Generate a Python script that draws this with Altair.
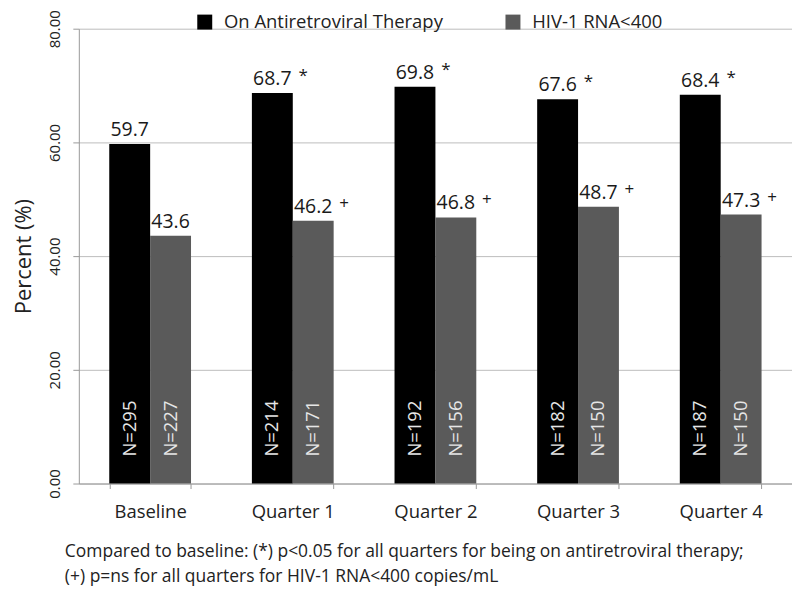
import altair as alt
import pandas as pd

categories = ["Baseline", "Quarter 1", "Quarter 2", "Quarter 3", "Quarter 4"]
series_names = ["On Antiretroviral Therapy", "HIV-1 RNA<400"]
art_pct = [59.7, 68.7, 69.8, 67.6, 68.4]
rna_pct = [43.6, 46.2, 46.8, 48.7, 47.3]
art_n = [295, 214, 192, 182, 187]
rna_n = [227, 171, 156, 150, 150]
art_mark = ["", "*", "*", "*", "*"]
rna_mark = ["", "+", "+", "+", "+"]
y_ticks = [0, 20, 40, 60, 80]
footnote = [
    "Compared to baseline: (*) p<0.05 for all quarters for being on antiretroviral therapy;",
    "(+) p=ns for all quarters for HIV-1 RNA<400 copies/mL",
]

rows = []
for i, c in enumerate(categories):
    rows.append({"cat": c, "series": series_names[0], "pct": art_pct[i],
                 "label": f"{art_pct[i]:.1f}", "mark": art_mark[i], "n": f"N={art_n[i]}"})
    rows.append({"cat": c, "series": series_names[1], "pct": rna_pct[i],
                 "label": f"{rna_pct[i]:.1f}", "mark": rna_mark[i], "n": f"N={rna_n[i]}"})
df = pd.DataFrame(rows)

FONT = "Open Sans"

x_enc = alt.X("cat:N", sort=categories, title=None,
              scale=alt.Scale(paddingInner=0.427, paddingOuter=0.2135),
              axis=alt.Axis(labelAngle=0, labelFontSize=18.5, labelColor="#222222",
                            labelFont=FONT, labelPadding=14, tickBand="extent",
                            tickSize=5, tickColor="#9a9a9a", domainColor="#9a9a9a",
                            grid=False))
xoff = alt.XOffset("series:N", sort=series_names,
                   scale=alt.Scale(domain=series_names, paddingInner=0, paddingOuter=0))
y_enc = alt.Y("pct:Q", title="Percent (%)",
              scale=alt.Scale(domain=[0, 80], nice=False),
              axis=alt.Axis(values=y_ticks, format=".2f", labelAngle=270,
                            labelAlign="center", labelBaseline="bottom",
                            labelFontSize=15, labelFont=FONT, labelColor="#222222",
                            labelPadding=10, tickSize=6, tickColor="#9a9a9a",
                            domainColor="#9a9a9a", gridColor="#bdbdbd",
                            titleFontSize=22, titleFont=FONT, titleFontWeight="normal",
                            titleColor="#222222", titlePadding=12))

base = alt.Chart(df).encode(x=x_enc, xOffset=xoff)

bars = base.mark_bar(size=41).encode(
    y=y_enc,
    color=alt.Color("series:N",
                    scale=alt.Scale(domain=series_names, range=["#000000", "#5a5a5a"]),
                    legend=alt.Legend(title=None, orient="none", legendX=117, legendY=-16,
                                      direction="horizontal", symbolType="square",
                                      symbolSize=225, symbolStrokeWidth=0,
                                      labelFontSize=18.5, labelFont=FONT, labelLimit=500,
                                      labelColor="#222222", columnPadding=60,
                                      labelOffset=10)),
)

vals = base.mark_text(baseline="bottom", dy=-4, fontSize=19.5, font=FONT,
                      color="#1a1a1a").encode(y="pct:Q", text="label:N")

marks = base.mark_text(baseline="bottom", dy=-8, dx=31, fontSize=17, font=FONT,
                       color="#1a1a1a").encode(y="pct:Q", text="mark:N")

ns = base.mark_text(angle=270, align="left", baseline="middle", dx=27, fontSize=18.5,
                    font=FONT, color="#e6e6e6").encode(y=alt.datum(0), text="n:N")

chart = alt.layer(bars, vals, marks, ns).properties(
    width=715, height=456,
    autosize=alt.AutoSizeParams(type="none"),
    padding={"left": 71, "top": 20, "right": 0, "bottom": 108},
    title=alt.TitleParams(text=footnote, orient="bottom", anchor="start", frame="group",
                          dx=-14, offset=22, fontSize=17.5, font=FONT,
                          fontWeight="normal", color="#222222", lineHeight=25),
).configure_view(stroke=None)

chart.save("out.html", embed_options={"renderer": "svg", "actions": False})
